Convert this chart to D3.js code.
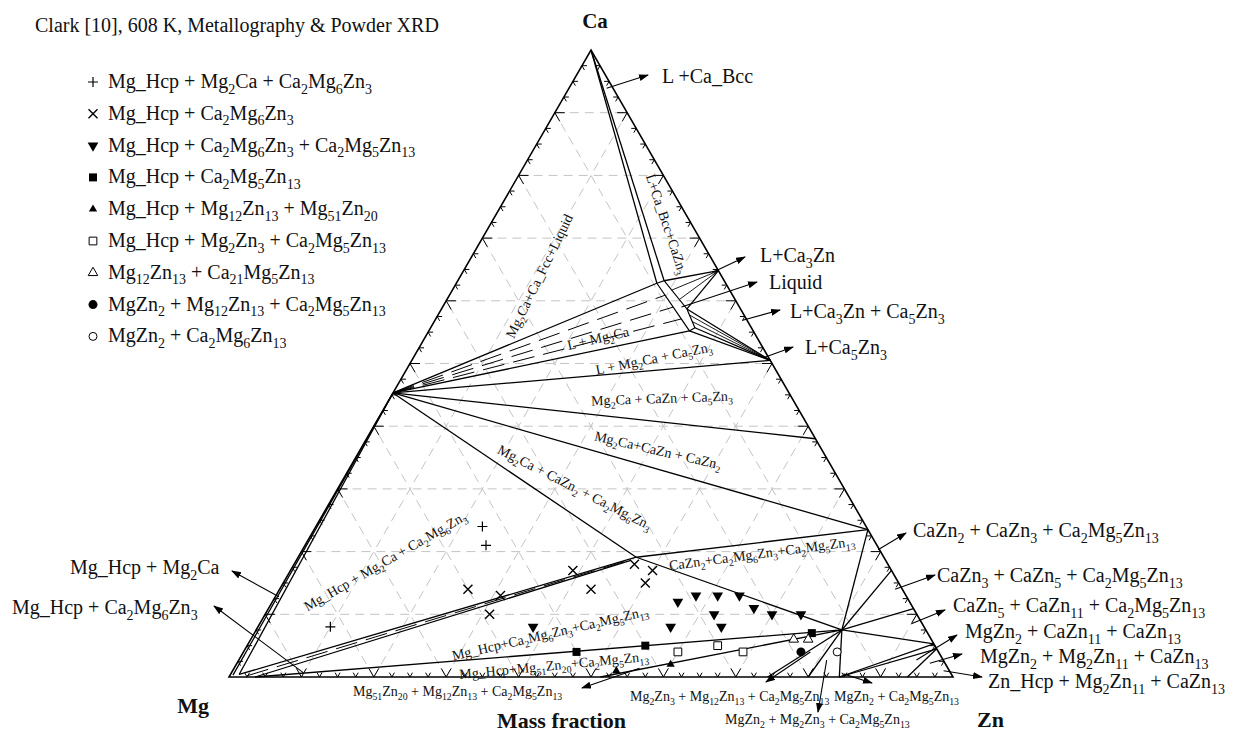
<!DOCTYPE html>
<html><head><meta charset="utf-8">
<script src="https://cdn.jsdelivr.net/npm/d3@7"></script>
<style>
body{margin:0;background:#fff;}
svg{display:block;background:#fff;}
text{font-family:"Liberation Serif","Times New Roman",serif;fill:#111;}
</style></head><body>
<svg id="chart" width="1233" height="733"></svg>
<script>
// Compositions are [w(Zn), w(Ca)] mass fractions; Mg is the balance.

// Stoichiometric phases
const CA = [0, 1];
const ZN = [1, 0];
const MG2CA = [0, 0.453];
const CA3ZN = [0.352, 0.648];
const CA5ZN3 = [0.495, 0.505];
const CAZN = [0.62, 0.38];
const CAZN2 = [0.765, 0.235];
const CAZN3 = [0.83, 0.17];
const CAZN5 = [0.891, 0.109];
const CAZN11 = [0.947, 0.053];
const CAZN13 = [0.955, 0.045];
const CA2MG6ZN3 = [0.467, 0.191];      // point A
const CA2MG6ZN3_LOW = [0.462, 0.186];
const CA2MG5ZN13 = [0.809, 0.075];     // point B
const MG51ZN20 = [0.513, 0];
const MG12ZN13 = [0.744, 0];
const MG2ZN3 = [0.80, 0];
const MGZN2 = [0.843, 0];
const MG2ZN11 = [0.937, 0];

// Liquid pocket vertices
const LIQ1 = [0.277, 0.628];
const LIQ2 = [0.285, 0.632];
const LIQ3 = [0.339, 0.587];
const LIQ4 = [0.365, 0.557];
const LIQ5 = [0.360, 0.552];

// Mg_Hcp solid-solution vertices
const HCP_E = [0.004, 0.003];
const HCP_A = [0.012, 0.004];
const HCP_B = [0.036, 0];

// Phase boundaries
const boundaries = [
  [CA, LIQ1], [CA, LIQ2],
  [MG2CA, LIQ1], [MG2CA, LIQ5], [MG2CA, CA5ZN3], [MG2CA, CAZN], [MG2CA, CAZN2], [MG2CA, CA2MG6ZN3],
  [LIQ2, CA3ZN], [LIQ3, CA3ZN], [LIQ3, CA5ZN3], [LIQ4, CA5ZN3], [LIQ5, CA5ZN3],
  [CA2MG6ZN3, CAZN2], [CA2MG6ZN3, CA2MG5ZN13],
  [CA2MG5ZN13, CAZN2], [CA2MG5ZN13, CAZN3], [CA2MG5ZN13, CAZN5], [CA2MG5ZN13, CAZN11],
  [CA2MG5ZN13, MGZN2], [CA2MG5ZN13, MG2ZN3], [CA2MG5ZN13, MG12ZN13], [CA2MG5ZN13, MG51ZN20],
  [MGZN2, CAZN11], [MGZN2, CAZN13], [MG2ZN11, CAZN13],
  [MG2CA, HCP_E], [MG2CA, HCP_A], [HCP_A, CA2MG6ZN3], [HCP_B, CA2MG6ZN3_LOW], [HCP_B, CA2MG5ZN13]
];
// Liquid region outline
const liquidOutline = [LIQ1, LIQ2, LIQ3, LIQ4, LIQ5, LIQ1];
// Tie lines in two-phase fields
const tieSolid = [
  [CA3ZN, [0.303, 0.617]], [CA3ZN, [0.321, 0.602]],
  [CA5ZN3, [0.348, 0.577]], [CA5ZN3, [0.356, 0.567]]
];
const tieDashed = [
  [MG2CA, [0.298, 0.609]], [MG2CA, [0.3185, 0.590]], [MG2CA, [0.339, 0.571]],
  [[0.024, 0.002], [0.4645, 0.1885]]
];

// Experimental samples (Clark, 608 K)
const plusPts = [[0.23, 0.24], [0.25, 0.21], [0.10, 0.08]];
const crossPts = [[0.26, 0.14], [0.31, 0.13], [0.31, 0.10], [0.39, 0.17], [0.43, 0.14], [0.47, 0.18], [0.50, 0.17], [0.50, 0.15]];
const downTriPts = [[0.38, 0.08], [0.56, 0.12], [0.58, 0.13], [0.61, 0.13], [0.64, 0.13], [0.67, 0.11], [0.70, 0.10], [0.62, 0.10], [0.57, 0.08], [0.64, 0.08], [0.74, 0.10]];
const solidSquarePts = [[0.46, 0.04], [0.55, 0.05], [0.77, 0.07]];
const upTriPts = [[0.53, 0.01], [0.60, 0.02]];
const openSquarePts = [[0.60, 0.04], [0.65, 0.05], [0.69, 0.04]];
const openTriPts = [[0.75, 0.06], [0.77, 0.06]];
const dotPts = [[0.77, 0.04]];
const ringPts = [[0.82, 0.04]];

const legendLabels = [
  "Mg_Hcp + Mg2Ca + Ca2Mg6Zn3", "Mg_Hcp + Ca2Mg6Zn3", "Mg_Hcp + Ca2Mg6Zn3 + Ca2Mg5Zn13",
  "Mg_Hcp + Ca2Mg5Zn13", "Mg_Hcp + Mg12Zn13 + Mg51Zn20", "Mg_Hcp + Mg2Zn3 + Ca2Mg5Zn13",
  "Mg12Zn13 + Ca21Mg5Zn13", "MgZn2 + Mg12Zn13 + Ca2Mg5Zn13", "MgZn2 + Ca2Mg6Zn13"
];
const legendKinds = ["plus", "cross", "down", "square", "up", "osquare", "otri", "dot", "ring"];
const seriesData = [plusPts, crossPts, downTriPts, solidSquarePts, upTriPts, openSquarePts, openTriPts, dotPts, ringPts];

const gridSteps = d3.range(1, 10).map(k => k / 10);
const tickSteps = d3.range(1, 40).map(i => i / 40);

// ---------- drawing ----------
const svg = d3.select("#chart");
const xS = d3.scaleLinear().domain([0, 1]).range([229, 953]);
const yS = d3.scaleLinear().domain([0, 1]).range([677, 50]);
const proj = ([zn, ca]) => [xS(zn + ca / 2), yS(ca)];
const line = d3.line();

svg.append("defs").append("marker")
  .attr("id", "ah").attr("markerUnits", "userSpaceOnUse")
  .attr("markerWidth", 10).attr("markerHeight", 8)
  .attr("refX", 9).attr("refY", 3.5).attr("orient", "auto")
  .append("path").attr("d", "M0,0 L10,3.5 L0,7 Z").attr("fill", "#000");

function rich(sel, str, fs) {
  const parts = str.match(/\d+|\D+/g);
  let down = false;
  parts.forEach(p => {
    const sub = /^\d+$/.test(p);
    const t = sel.append("tspan").text(p);
    if (sub) {
      t.attr("font-size", fs * 0.7);
      if (!down) { t.attr("dy", fs * 0.28); down = true; }
    } else if (down) { t.attr("dy", -fs * 0.28); down = false; }
  });
}

// dashed grid
const grid = svg.append("g").attr("stroke", "#c4c4c4").attr("stroke-width", 1)
  .attr("stroke-dasharray", "9,6").attr("fill", "none");
gridSteps.forEach(f => {
  grid.append("path").attr("d", line([proj([0, f]), proj([1 - f, f])]));
  grid.append("path").attr("d", line([proj([f, 0]), proj([f, 1 - f])]));
  grid.append("path").attr("d", line([proj([1 - f, 0]), proj([0, 1 - f])]));
});

// frame
svg.append("path").attr("d", line([proj([0, 0]), proj(ZN), proj(CA)]) + "Z")
  .attr("fill", "none").attr("stroke", "#000").attr("stroke-width", 1.6);

// ticks
const ticks = svg.append("g").attr("stroke", "#000").attr("stroke-width", 1);
const s3 = Math.sqrt(3) / 2;
tickSteps.forEach((f, i) => {
  const L = (i + 1) % 4 === 0 ? 10 : 5;
  const arms = [
    [proj([0, f]), [[1, 0], [0.5, s3]]],
    [proj([1 - f, f]), [[-1, 0], [-0.5, s3]]],
    [proj([f, 0]), [[-0.5, -s3], [0.5, -s3]]]
  ];
  arms.forEach(([p, dirs]) => dirs.forEach(d => {
    ticks.append("path").attr("d", line([p, [p[0] + d[0] * L, p[1] + d[1] * L]]));
  }));
});

// phase boundaries
const bg = svg.append("g").attr("stroke", "#000").attr("fill", "none");
boundaries.forEach(s => bg.append("path").attr("d", line(s.map(proj))).attr("stroke-width", 1.3));
bg.append("path").attr("d", line(liquidOutline.map(proj))).attr("stroke-width", 1.2);
tieSolid.forEach(s => bg.append("path").attr("d", line(s.map(proj))).attr("stroke-width", 0.9));
tieDashed.forEach(s => bg.append("path").attr("d", line(s.map(proj)))
  .attr("stroke-width", 1).attr("stroke-dasharray", "22,9"));

// markers
function marker(g, kind, x, y) {
  const k = g.append("g").attr("transform", `translate(${x},${y})`);
  if (kind === "plus") {
    k.append("path").attr("d", "M-5,0H5M0,-5V5").attr("stroke", "#000").attr("stroke-width", 1.2);
  } else if (kind === "cross") {
    k.append("path").attr("d", "M-4.5,-4.5L4.5,4.5M-4.5,4.5L4.5,-4.5").attr("stroke", "#000").attr("stroke-width", 1.4);
  } else if (kind === "down") {
    k.append("path").attr("d", d3.symbol(d3.symbolTriangle, 50)()).attr("transform", "rotate(180)").attr("fill", "#000");
  } else if (kind === "up") {
    k.append("path").attr("d", d3.symbol(d3.symbolTriangle, 30)()).attr("fill", "#000");
  } else if (kind === "square") {
    k.append("path").attr("d", d3.symbol(d3.symbolSquare, 64)()).attr("fill", "#000");
  } else if (kind === "osquare") {
    k.append("path").attr("d", d3.symbol(d3.symbolSquare, 60)()).attr("fill", "#fff").attr("stroke", "#000").attr("stroke-width", 1);
  } else if (kind === "otri") {
    k.append("path").attr("d", d3.symbol(d3.symbolTriangle, 40)()).attr("fill", "#fff").attr("stroke", "#000").attr("stroke-width", 1);
  } else if (kind === "dot") {
    k.append("circle").attr("r", 4.5).attr("fill", "#000");
  } else if (kind === "ring") {
    k.append("circle").attr("r", 4).attr("fill", "#fff").attr("stroke", "#000").attr("stroke-width", 1);
  }
}
const mk = svg.append("g");
seriesData.forEach((pts, i) => pts.forEach(p => { const [x, y] = proj(p); marker(mk, legendKinds[i], x, y); }));

// legend
const lg = svg.append("g");
legendLabels.forEach((lab, i) => {
  const yb = 88 + i * 31.8;
  marker(lg, legendKinds[i], 93, yb - 6);
  rich(lg.append("text").attr("x", 108).attr("y", yb).attr("font-size", 20), lab, 20);
});

// title and corner names
svg.append("text").attr("x", 35).attr("y", 32).attr("font-size", 20)
  .text("Clark [10], 608 K, Metallography & Powder XRD");
svg.append("text").attr("x", 595).attr("y", 28).attr("font-size", 21).attr("font-weight", "bold")
  .attr("text-anchor", "middle").text("Ca");
svg.append("text").attr("x", 209).attr("y", 713).attr("font-size", 22).attr("font-weight", "bold")
  .attr("text-anchor", "end").text("Mg");
svg.append("text").attr("x", 977).attr("y", 727).attr("font-size", 22).attr("font-weight", "bold").text("Zn");
svg.append("text").attr("x", 497).attr("y", 728).attr("font-size", 22).attr("font-weight", "bold").text("Mass fraction");

// field labels inside the triangle
const fieldLabels = [
  { t: "Mg2Ca+Ca_Fcc+Liquid", cx: 539, cy: 276, a: -64 },
  { t: "L+Ca_Bcc+CaZn3", cx: 667, cy: 224, a: 71.5 },
  { t: "L + Mg2Ca", cx: 598, cy: 338, a: -13 },
  { t: "L + Mg2Ca + Ca5Zn3", cx: 654, cy: 358, a: -11.5 },
  { t: "Mg2Ca + CaZn + Ca5Zn3", cx: 662, cy: 398, a: -2 },
  { t: "Mg2Ca+CaZn + CaZn2", cx: 658, cy: 450, a: 13 },
  { t: "Mg2Ca + CaZn2 + Ca2Mg6Zn3", cx: 575, cy: 487, a: 27 },
  { t: "CaZn2+Ca2Mg6Zn3+Ca2Mg5Zn13", cx: 762, cy: 553, a: -7.5 },
  { t: "Mg_Hcp + Mg2Ca + Ca2Mg6Zn3", cx: 385, cy: 561, a: -30 },
  { t: "Mg_Hcp+Ca2Mg6Zn3+Ca2Mg5Zn13", cx: 550, cy: 633, a: -13 },
  { t: "Mg_Hcp+Mg51Zn20+Ca2Mg5Zn13", cx: 554, cy: 665, a: -5.5 }
];
fieldLabels.forEach(d => {
  const t = svg.append("text").attr("transform", `translate(${d.cx},${d.cy}) rotate(${d.a})`)
    .attr("x", 0).attr("y", 5).attr("text-anchor", "middle").attr("font-size", 14);
  rich(t, d.t, 14);
});

// labels with leader arrows
const calloutLabels = [
  { t: "L +Ca_Bcc", x: 662, y: 83, fs: 20, tail: [0.052, 0.939], head: [648, 75] },
  { t: "L+Ca3Zn", x: 760, y: 262, fs: 20, tail: [0.345, 0.645], head: [745, 257] },
  { t: "Liquid", x: 769, y: 289, fs: 20, tail: [0.33, 0.59], head: [757, 282] },
  { t: "L+Ca3Zn + Ca5Zn3", x: 790, y: 318, fs: 20, tail: [0.425, 0.569], head: [780, 310] },
  { t: "L+Ca5Zn3", x: 805, y: 354, fs: 20, tail: [0.485, 0.51], head: [793, 347] },
  { t: "CaZn2 + CaZn3 + Ca2Mg5Zn13", x: 913, y: 537, fs: 20, tail: [0.795, 0.203], head: [906, 533] },
  { t: "CaZn3 + CaZn5 + Ca2Mg5Zn13", x: 937, y: 582, fs: 20, tail: [0.85, 0.14], head: [935, 575] },
  { t: "CaZn5 + CaZn11 + Ca2Mg5Zn13", x: 953, y: 612, fs: 20, tail: [0.90, 0.085], head: [945, 610] },
  { t: "MgZn2 + CaZn11 + CaZn13", x: 965, y: 638, fs: 20, tail: [0.936, 0.027], head: [957, 635] },
  { t: "MgZn2 + Mg2Zn11 + CaZn13", x: 980, y: 663, fs: 20, tail: [0.957, 0.022], head: [962, 654] },
  { t: "Zn_Hcp + Mg2Zn11 + CaZn13", x: 988, y: 688, fs: 20, tail: [0.982, 0.01], head: [982, 677] },
  { t: "Mg_Hcp + Mg2Ca", x: 70, y: 574, fs: 20, tail: [0.005, 0.128], head: [232, 571] },
  { t: "Mg_Hcp + Ca2Mg6Zn3", x: 12, y: 614, fs: 20, tail: [0.099, 0.007], head: [214, 606] },
  { t: "Mg51Zn20 + Mg12Zn13 + Ca2Mg5Zn13", x: 353, y: 696, fs: 14, tail: [0.56, 0.014], head: [582, 688] },
  { t: "Mg2Zn3 + Mg12Zn13 + Ca2Mg5Zn13", x: 630, y: 701, fs: 14, tail: [0.783, 0.04], head: [766, 682] },
  { t: "MgZn2 + Ca2Mg5Zn13", x: 834, y: 701, fs: 14, tail: [0.846, 0.005], head: [872, 683] },
  { t: "MgZn2 + Mg2Zn3 + Ca2Mg5Zn13", x: 725, y: 724, fs: 14, tail: [0.812, 0.027], head: [818, 712] }
];
calloutLabels.forEach(d => {
  svg.append("path").attr("d", line([proj(d.tail), d.head]))
    .attr("stroke", "#000").attr("stroke-width", 1.1).attr("fill", "none").attr("marker-end", "url(#ah)");
  rich(svg.append("text").attr("x", d.x).attr("y", d.y).attr("font-size", d.fs), d.t, d.fs);
});
</script>
</body></html>
